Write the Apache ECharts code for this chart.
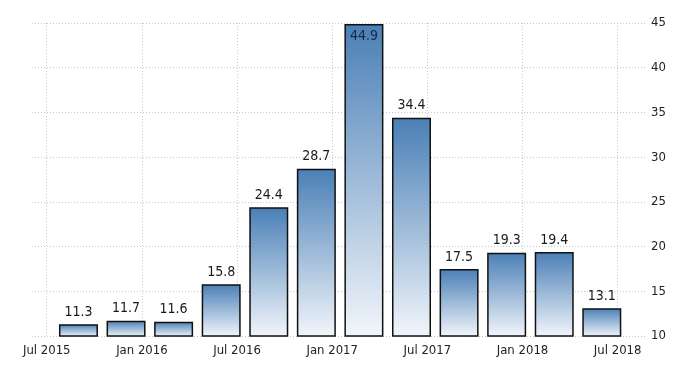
<!DOCTYPE html>
<html>
<head>
<meta charset="utf-8">
<script src="https://cdn.jsdelivr.net/npm/echarts@6/dist/echarts.min.js"></script>
<style>html,body{margin:0;padding:0;background:#fff}#c{width:700px;height:375px}</style>
</head>
<body>
<div id="c"></div>
<script>
// Data
var periods = ['2015-09','2015-12','2016-03','2016-06','2016-09','2016-12','2017-03','2017-06','2017-09','2017-12','2018-03','2018-06'];
var values = [11.3, 11.7, 11.6, 15.8, 24.4, 28.7, 44.9, 34.4, 17.5, 19.3, 19.4, 13.1];
var tickDates = ['2015-07','2016-01','2016-07','2017-01','2017-07','2018-01','2018-07'];
var tickLabels = ['Jul 2015','Jan 2016','Jul 2016','Jan 2017','Jul 2017','Jan 2018','Jul 2018'];
var yTicks = [10, 15, 20, 25, 30, 35, 40, 45];

function monthIndex(s) { // months since Jul 2015
  var p = s.split('-');
  return (parseInt(p[0], 10) - 2015) * 12 + parseInt(p[1], 10) - 7;
}
var tickPos = tickDates.map(monthIndex);
var labelMap = {};
tickPos.forEach(function (v, i) { labelMap[v] = tickLabels[i]; });

var FONT = "'DejaVu Sans Condensed','Liberation Sans Narrow',sans-serif";
var maxVal = Math.max.apply(null, values);

var data = periods.map(function (p, i) {
  var d = { value: [monthIndex(p), values[i]] };
  if (values[i] === maxVal) {
    d.label = { position: 'insideTop', distance: 5, color: '#1a2848' };
  }
  return d;
});

var chart = echarts.init(document.getElementById('c'), null, { renderer: 'canvas' });
chart.setOption({
  animation: false,
  backgroundColor: '#fff',
  grid: { left: 32, right: 53, top: 23, bottom: 39, containLabel: false },
  xAxis: {
    type: 'value',
    min: -0.93,
    max: 37.85,
    axisLine: { show: false },
    axisTick: { show: false, customValues: tickPos },
    axisLabel: {
      customValues: tickPos,
      formatter: function (v) { return labelMap[v] || ''; },
      color: '#222', fontSize: 13, fontFamily: FONT, margin: 8
    },
    splitLine: { show: true, lineStyle: { color: '#c8c8c8', type: [1, 2], width: 1 } }
  },
  yAxis: {
    type: 'value',
    position: 'right',
    min: yTicks[0],
    max: yTicks[yTicks.length - 1],
    interval: 5,
    axisLine: { show: false },
    axisTick: { show: false },
    axisLabel: { color: '#222', fontSize: 13, fontFamily: FONT, margin: 4 },
    splitLine: { show: true, lineStyle: { color: '#c8c8c8', type: [1, 2], width: 1 } }
  },
  series: [{
    type: 'bar',
    barWidth: 39,
    data: data,
    itemStyle: {
      borderColor: '#111',
      borderWidth: 1.5,
      color: new echarts.graphic.LinearGradient(0, 0, 0, 1, [
        { offset: 0, color: '#4a7fb6' },
        { offset: 1, color: '#f2f6fb' }
      ])
    },
    label: {
      show: true,
      position: 'top',
      distance: 5,
      color: '#1a1a1a',
      fontSize: 14,
      fontFamily: FONT,
      formatter: function (p) { return p.value[1].toFixed(1); }
    }
  }]
});
</script>
</body>
</html>
